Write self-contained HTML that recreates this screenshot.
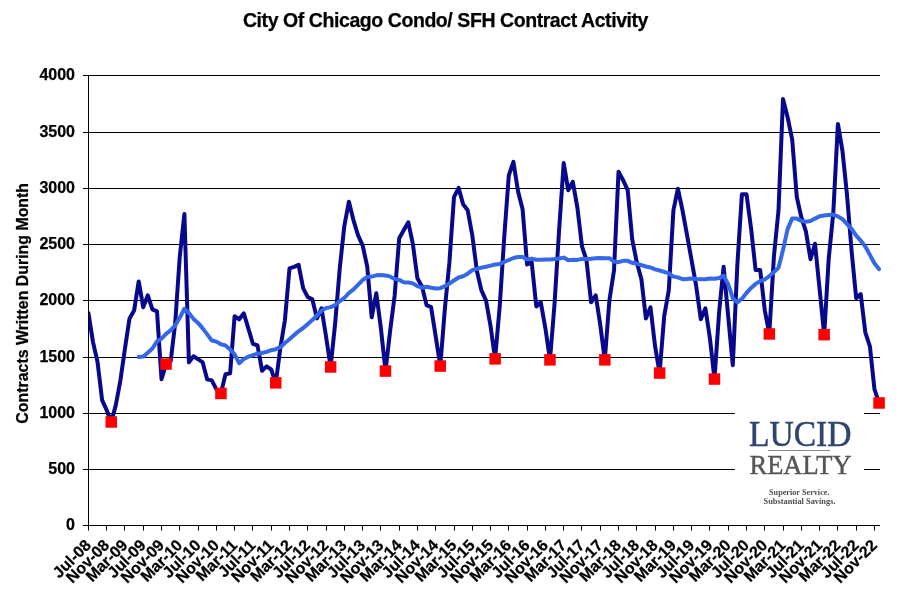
<!DOCTYPE html>
<html><head><meta charset="utf-8"><style>
html,body{margin:0;padding:0;background:#fff;}
body{width:900px;height:594px;overflow:hidden;position:relative;}
svg{position:absolute;left:0;top:0;will-change:transform;}
text{font-family:"Liberation Sans",sans-serif;font-weight:bold;fill:#000;stroke:#000;stroke-width:0.25px;}
.yl{font-size:16px;text-anchor:end;}
.xl{font-size:16px;text-anchor:end;}
.t{font-size:19.5px;text-anchor:middle;letter-spacing:-0.43px;}
.serif{font-family:"Liberation Serif",serif;}
</style></head><body>
<svg width="900" height="594" viewBox="0 0 900 594">
<text x="445.5" y="27.3" class="t">City Of Chicago Condo/ SFH Contract Activity</text>
<text transform="translate(28,303.3) rotate(-90)" style="font-size:15.9px;text-anchor:middle">Contracts Written During Month</text>
<line x1="83" y1="525.5" x2="880" y2="525.5" stroke="#000" stroke-width="1"/>
<text x="75" y="530.3" class="yl">0</text>
<line x1="83" y1="469.5" x2="880" y2="469.5" stroke="#000" stroke-width="1"/>
<text x="75" y="474.1" class="yl">500</text>
<line x1="83" y1="413.5" x2="880" y2="413.5" stroke="#000" stroke-width="1"/>
<text x="75" y="417.8" class="yl">1000</text>
<line x1="83" y1="357.5" x2="880" y2="357.5" stroke="#000" stroke-width="1"/>
<text x="75" y="361.6" class="yl">1500</text>
<line x1="83" y1="300.5" x2="880" y2="300.5" stroke="#000" stroke-width="1"/>
<text x="75" y="305.3" class="yl">2000</text>
<line x1="83" y1="244.5" x2="880" y2="244.5" stroke="#000" stroke-width="1"/>
<text x="75" y="249.1" class="yl">2500</text>
<line x1="83" y1="188.5" x2="880" y2="188.5" stroke="#000" stroke-width="1"/>
<text x="75" y="192.8" class="yl">3000</text>
<line x1="83" y1="132.5" x2="880" y2="132.5" stroke="#000" stroke-width="1"/>
<text x="75" y="136.6" class="yl">3500</text>
<line x1="83" y1="75.5" x2="880" y2="75.5" stroke="#000" stroke-width="1"/>
<text x="75" y="80.3" class="yl">4000</text>
<line x1="88.5" y1="525" x2="88.5" y2="530.5" stroke="#000" stroke-width="1"/>
<text transform="translate(92.0,546.2) rotate(-45)" class="xl">Jul-08</text>
<line x1="106.5" y1="525" x2="106.5" y2="530.5" stroke="#000" stroke-width="1"/>
<text transform="translate(110.3,546.2) rotate(-45)" class="xl">Nov-08</text>
<line x1="124.5" y1="525" x2="124.5" y2="530.5" stroke="#000" stroke-width="1"/>
<text transform="translate(128.6,546.2) rotate(-45)" class="xl">Mar-09</text>
<line x1="143.5" y1="525" x2="143.5" y2="530.5" stroke="#000" stroke-width="1"/>
<text transform="translate(146.8,546.2) rotate(-45)" class="xl">Jul-09</text>
<line x1="161.5" y1="525" x2="161.5" y2="530.5" stroke="#000" stroke-width="1"/>
<text transform="translate(165.1,546.2) rotate(-45)" class="xl">Nov-09</text>
<line x1="179.5" y1="525" x2="179.5" y2="530.5" stroke="#000" stroke-width="1"/>
<text transform="translate(183.4,546.2) rotate(-45)" class="xl">Mar-10</text>
<line x1="198.5" y1="525" x2="198.5" y2="530.5" stroke="#000" stroke-width="1"/>
<text transform="translate(201.7,546.2) rotate(-45)" class="xl">Jul-10</text>
<line x1="216.5" y1="525" x2="216.5" y2="530.5" stroke="#000" stroke-width="1"/>
<text transform="translate(220.0,546.2) rotate(-45)" class="xl">Nov-10</text>
<line x1="234.5" y1="525" x2="234.5" y2="530.5" stroke="#000" stroke-width="1"/>
<text transform="translate(238.2,546.2) rotate(-45)" class="xl">Mar-11</text>
<line x1="252.5" y1="525" x2="252.5" y2="530.5" stroke="#000" stroke-width="1"/>
<text transform="translate(256.5,546.2) rotate(-45)" class="xl">Jul-11</text>
<line x1="271.5" y1="525" x2="271.5" y2="530.5" stroke="#000" stroke-width="1"/>
<text transform="translate(274.8,546.2) rotate(-45)" class="xl">Nov-11</text>
<line x1="289.5" y1="525" x2="289.5" y2="530.5" stroke="#000" stroke-width="1"/>
<text transform="translate(293.1,546.2) rotate(-45)" class="xl">Mar-12</text>
<line x1="307.5" y1="525" x2="307.5" y2="530.5" stroke="#000" stroke-width="1"/>
<text transform="translate(311.4,546.2) rotate(-45)" class="xl">Jul-12</text>
<line x1="326.5" y1="525" x2="326.5" y2="530.5" stroke="#000" stroke-width="1"/>
<text transform="translate(329.6,546.2) rotate(-45)" class="xl">Nov-12</text>
<line x1="344.5" y1="525" x2="344.5" y2="530.5" stroke="#000" stroke-width="1"/>
<text transform="translate(347.9,546.2) rotate(-45)" class="xl">Mar-13</text>
<line x1="362.5" y1="525" x2="362.5" y2="530.5" stroke="#000" stroke-width="1"/>
<text transform="translate(366.2,546.2) rotate(-45)" class="xl">Jul-13</text>
<line x1="380.5" y1="525" x2="380.5" y2="530.5" stroke="#000" stroke-width="1"/>
<text transform="translate(384.5,546.2) rotate(-45)" class="xl">Nov-13</text>
<line x1="399.5" y1="525" x2="399.5" y2="530.5" stroke="#000" stroke-width="1"/>
<text transform="translate(402.8,546.2) rotate(-45)" class="xl">Mar-14</text>
<line x1="417.5" y1="525" x2="417.5" y2="530.5" stroke="#000" stroke-width="1"/>
<text transform="translate(421.0,546.2) rotate(-45)" class="xl">Jul-14</text>
<line x1="435.5" y1="525" x2="435.5" y2="530.5" stroke="#000" stroke-width="1"/>
<text transform="translate(439.3,546.2) rotate(-45)" class="xl">Nov-14</text>
<line x1="454.5" y1="525" x2="454.5" y2="530.5" stroke="#000" stroke-width="1"/>
<text transform="translate(457.6,546.2) rotate(-45)" class="xl">Mar-15</text>
<line x1="472.5" y1="525" x2="472.5" y2="530.5" stroke="#000" stroke-width="1"/>
<text transform="translate(475.9,546.2) rotate(-45)" class="xl">Jul-15</text>
<line x1="490.5" y1="525" x2="490.5" y2="530.5" stroke="#000" stroke-width="1"/>
<text transform="translate(494.2,546.2) rotate(-45)" class="xl">Nov-15</text>
<line x1="508.5" y1="525" x2="508.5" y2="530.5" stroke="#000" stroke-width="1"/>
<text transform="translate(512.4,546.2) rotate(-45)" class="xl">Mar-16</text>
<line x1="527.5" y1="525" x2="527.5" y2="530.5" stroke="#000" stroke-width="1"/>
<text transform="translate(530.7,546.2) rotate(-45)" class="xl">Jul-16</text>
<line x1="545.5" y1="525" x2="545.5" y2="530.5" stroke="#000" stroke-width="1"/>
<text transform="translate(549.0,546.2) rotate(-45)" class="xl">Nov-16</text>
<line x1="563.5" y1="525" x2="563.5" y2="530.5" stroke="#000" stroke-width="1"/>
<text transform="translate(567.3,546.2) rotate(-45)" class="xl">Mar-17</text>
<line x1="581.5" y1="525" x2="581.5" y2="530.5" stroke="#000" stroke-width="1"/>
<text transform="translate(585.6,546.2) rotate(-45)" class="xl">Jul-17</text>
<line x1="600.5" y1="525" x2="600.5" y2="530.5" stroke="#000" stroke-width="1"/>
<text transform="translate(603.8,546.2) rotate(-45)" class="xl">Nov-17</text>
<line x1="618.5" y1="525" x2="618.5" y2="530.5" stroke="#000" stroke-width="1"/>
<text transform="translate(622.1,546.2) rotate(-45)" class="xl">Mar-18</text>
<line x1="636.5" y1="525" x2="636.5" y2="530.5" stroke="#000" stroke-width="1"/>
<text transform="translate(640.4,546.2) rotate(-45)" class="xl">Jul-18</text>
<line x1="655.5" y1="525" x2="655.5" y2="530.5" stroke="#000" stroke-width="1"/>
<text transform="translate(658.7,546.2) rotate(-45)" class="xl">Nov-18</text>
<line x1="673.5" y1="525" x2="673.5" y2="530.5" stroke="#000" stroke-width="1"/>
<text transform="translate(677.0,546.2) rotate(-45)" class="xl">Mar-19</text>
<line x1="691.5" y1="525" x2="691.5" y2="530.5" stroke="#000" stroke-width="1"/>
<text transform="translate(695.2,546.2) rotate(-45)" class="xl">Jul-19</text>
<line x1="709.5" y1="525" x2="709.5" y2="530.5" stroke="#000" stroke-width="1"/>
<text transform="translate(713.5,546.2) rotate(-45)" class="xl">Nov-19</text>
<line x1="728.5" y1="525" x2="728.5" y2="530.5" stroke="#000" stroke-width="1"/>
<text transform="translate(731.8,546.2) rotate(-45)" class="xl">Mar-20</text>
<line x1="746.5" y1="525" x2="746.5" y2="530.5" stroke="#000" stroke-width="1"/>
<text transform="translate(750.1,546.2) rotate(-45)" class="xl">Jul-20</text>
<line x1="764.5" y1="525" x2="764.5" y2="530.5" stroke="#000" stroke-width="1"/>
<text transform="translate(768.4,546.2) rotate(-45)" class="xl">Nov-20</text>
<line x1="783.5" y1="525" x2="783.5" y2="530.5" stroke="#000" stroke-width="1"/>
<text transform="translate(786.6,546.2) rotate(-45)" class="xl">Mar-21</text>
<line x1="801.5" y1="525" x2="801.5" y2="530.5" stroke="#000" stroke-width="1"/>
<text transform="translate(804.9,546.2) rotate(-45)" class="xl">Jul-21</text>
<line x1="819.5" y1="525" x2="819.5" y2="530.5" stroke="#000" stroke-width="1"/>
<text transform="translate(823.2,546.2) rotate(-45)" class="xl">Nov-21</text>
<line x1="837.5" y1="525" x2="837.5" y2="530.5" stroke="#000" stroke-width="1"/>
<text transform="translate(841.5,546.2) rotate(-45)" class="xl">Mar-22</text>
<line x1="856.5" y1="525" x2="856.5" y2="530.5" stroke="#000" stroke-width="1"/>
<text transform="translate(859.8,546.2) rotate(-45)" class="xl">Jul-22</text>
<line x1="874.5" y1="525" x2="874.5" y2="530.5" stroke="#000" stroke-width="1"/>
<text transform="translate(878.0,546.2) rotate(-45)" class="xl">Nov-22</text>
<rect x="735" y="405" width="129" height="112" fill="#fff"/>
<defs><clipPath id="pc"><rect x="88.6" y="0" width="812" height="594"/></clipPath></defs>
<polyline clip-path="url(#pc)" points="88.4,312.9 93.0,342.1 97.5,361.8 102.1,400.1 106.7,410.2 111.2,422.0 115.8,405.1 120.4,380.4 125.0,348.3 129.5,318.5 134.1,310.6 138.7,281.4 143.2,307.2 147.8,295.3 152.4,309.3 157.0,311.3 161.5,379.2 166.1,364.1 170.7,361.2 175.2,323.2 179.8,256.2 184.4,213.9 188.9,362.4 193.5,356.3 198.1,359.2 202.7,362.4 207.2,379.4 211.8,380.4 216.4,389.3 220.9,393.4 225.5,374.3 230.1,373.4 234.6,316.2 239.2,319.3 243.8,313.3 248.4,328.6 252.9,343.8 257.5,345.5 262.1,370.8 266.6,366.4 271.2,369.5 275.8,382.9 280.3,348.3 284.9,320.3 289.5,268.4 294.1,266.8 298.6,264.8 303.2,288.4 307.8,297.1 312.3,299.3 316.9,318.4 321.5,308.3 326.0,336.3 330.6,367.0 335.2,323.0 339.8,267.9 344.3,226.2 348.9,201.7 353.5,220.3 358.0,235.2 362.6,245.3 367.2,266.4 371.7,317.3 376.3,293.2 380.9,328.3 385.5,371.0 390.0,332.0 394.6,296.0 399.2,238.3 403.7,230.3 408.3,222.3 412.9,244.2 417.4,278.3 422.0,286.4 426.6,305.2 431.1,307.2 435.7,336.4 440.3,366.1 444.9,308.3 449.4,262.4 454.0,197.2 458.6,187.9 463.1,204.3 467.7,210.3 472.3,235.4 476.9,271.1 481.4,290.3 486.0,300.3 490.6,326.4 495.1,358.9 499.7,306.4 504.3,236.4 508.8,175.3 513.4,161.8 518.0,191.3 522.6,209.3 527.1,264.5 531.7,262.4 536.3,306.4 540.8,302.3 545.4,328.3 550.0,359.9 554.5,304.3 559.1,230.2 563.7,163.1 568.2,190.2 572.8,181.8 577.4,207.7 582.0,246.4 586.5,260.2 591.1,302.3 595.7,295.3 600.2,324.4 604.8,359.9 609.4,300.3 614.0,270.5 618.5,171.8 623.1,180.2 627.7,190.2 632.2,239.4 636.8,262.4 641.4,279.2 645.9,318.4 650.5,307.2 655.1,346.4 659.6,373.1 664.2,316.2 668.8,290.1 673.4,210.3 677.9,188.7 682.5,210.3 687.1,235.4 691.6,260.3 696.2,286.2 700.8,319.3 705.4,308.3 709.9,338.3 714.5,379.0 719.1,312.3 723.6,266.8 728.2,316.2 732.8,365.2 737.3,265.6 741.9,194.3 746.5,194.3 751.1,228.5 755.6,270.1 760.2,270.1 764.8,310.3 769.3,333.9 773.9,256.6 778.5,210.5 783.0,99.1 787.6,117.2 792.2,139.6 796.8,197.0 801.3,217.2 805.9,231.3 810.5,259.2 815.0,243.7 819.6,289.2 824.2,334.7 828.7,258.9 833.3,212.8 837.9,123.9 842.5,151.2 847.0,194.8 851.6,251.2 856.2,298.2 860.7,294.0 865.3,332.3 869.9,346.3 874.4,388.8 879.0,403.0" fill="none" stroke="#08088c" stroke-width="4" stroke-linejoin="round" stroke-linecap="round"/>
<polyline points="138.7,357.1 143.2,356.6 147.8,352.7 152.4,348.5 157.0,341.2 161.5,338.7 166.1,333.9 170.7,330.2 175.2,325.4 179.8,317.6 184.4,308.8 188.9,312.9 193.5,318.9 198.1,322.9 202.7,328.4 207.2,334.4 211.8,340.5 216.4,341.6 220.9,344.3 225.5,345.4 230.1,349.4 234.6,354.4 239.2,363.2 243.8,359.1 248.4,356.7 252.9,355.2 257.5,353.7 262.1,353.0 266.6,351.9 271.2,350.2 275.8,349.2 280.3,347.2 284.9,343.0 289.5,339.3 294.1,335.1 298.6,331.3 303.2,328.0 307.8,324.1 312.3,320.1 316.9,315.5 321.5,310.7 326.0,308.1 330.6,307.1 335.2,305.2 339.8,301.1 344.3,298.0 348.9,293.0 353.5,289.4 358.0,284.9 362.6,280.2 367.2,277.0 371.7,276.6 376.3,275.3 380.9,274.9 385.5,275.5 390.0,276.4 394.6,278.9 399.2,279.9 403.7,282.2 408.3,282.5 412.9,283.4 417.4,286.1 422.0,287.7 426.6,286.7 431.1,287.8 435.7,288.5 440.3,288.2 444.9,286.2 449.4,283.5 454.0,280.5 458.6,277.5 463.1,276.3 467.7,273.7 472.3,270.2 476.9,268.9 481.4,267.6 486.0,266.8 490.6,265.6 495.1,264.5 499.7,264.1 504.3,261.8 508.8,260.0 513.4,258.0 518.0,257.0 522.6,257.0 527.1,259.4 531.7,258.6 536.3,259.7 540.8,259.7 545.4,259.6 550.0,259.4 554.5,259.1 559.1,258.5 563.7,257.6 568.2,260.2 572.8,259.7 577.4,259.9 582.0,258.9 586.5,259.0 591.1,258.8 595.7,258.2 600.2,258.0 604.8,258.3 609.4,258.2 614.0,261.6 618.5,262.2 623.1,260.8 627.7,260.8 632.2,262.8 636.8,263.7 641.4,265.1 645.9,266.5 650.5,267.5 655.1,269.4 659.6,270.5 664.2,271.8 668.8,273.4 673.4,276.6 677.9,277.4 682.5,279.2 687.1,278.9 691.6,278.6 696.2,279.1 700.8,279.2 705.4,279.2 709.9,278.5 714.5,278.8 719.1,278.1 723.6,275.8 728.2,284.1 732.8,298.2 737.3,302.4 741.9,298.7 746.5,292.9 751.1,287.9 755.6,283.9 760.2,281.1 764.8,279.3 769.3,276.2 773.9,272.1 778.5,267.8 783.0,249.9 787.6,229.1 792.2,218.4 796.8,218.6 801.3,220.9 805.9,221.7 810.5,221.0 815.0,218.6 819.6,216.3 824.2,215.5 828.7,214.9 833.3,214.6 837.9,216.4 842.5,219.2 847.0,224.1 851.6,228.9 856.2,235.7 860.7,240.6 865.3,246.5 869.9,254.9 874.4,263.2 879.0,269.1" fill="none" stroke="#3468e8" stroke-width="4" stroke-linejoin="round" stroke-linecap="round"/>
<line x1="88.5" y1="75" x2="88.5" y2="530" stroke="#000" stroke-width="1"/>
<rect x="105.5" y="416.2" width="11.5" height="11.5" fill="#f00"/>
<rect x="160.3" y="358.3" width="11.5" height="11.5" fill="#f00"/>
<rect x="215.2" y="387.7" width="11.5" height="11.5" fill="#f00"/>
<rect x="270.0" y="377.1" width="11.5" height="11.5" fill="#f00"/>
<rect x="324.9" y="361.2" width="11.5" height="11.5" fill="#f00"/>
<rect x="379.7" y="365.3" width="11.5" height="11.5" fill="#f00"/>
<rect x="434.5" y="360.3" width="11.5" height="11.5" fill="#f00"/>
<rect x="489.4" y="353.1" width="11.5" height="11.5" fill="#f00"/>
<rect x="544.2" y="354.1" width="11.5" height="11.5" fill="#f00"/>
<rect x="599.1" y="354.1" width="11.5" height="11.5" fill="#f00"/>
<rect x="653.9" y="367.3" width="11.5" height="11.5" fill="#f00"/>
<rect x="708.7" y="373.3" width="11.5" height="11.5" fill="#f00"/>
<rect x="763.6" y="328.2" width="11.5" height="11.5" fill="#f00"/>
<rect x="818.4" y="328.9" width="11.5" height="11.5" fill="#f00"/>
<rect x="873.3" y="397.2" width="11.5" height="11.5" fill="#f00"/>
<g class="logo">
<text x="749" y="446.3" textLength="102.5" lengthAdjust="spacingAndGlyphs" style="font-family:'Liberation Serif',serif;font-weight:normal;font-size:36.5px;fill:#30446e;stroke:#30446e;stroke-width:0.5px">LUCID</text>
<line x1="768" y1="450.5" x2="830" y2="450.5" stroke="#8a8a8a" stroke-width="1"/>
<text x="749.5" y="474.2" textLength="102" lengthAdjust="spacingAndGlyphs" style="font-family:'Liberation Serif',serif;font-weight:normal;font-size:28px;fill:#555;stroke:#555;stroke-width:0.45px">REALTY</text>
<text x="769" y="495" textLength="60.5" lengthAdjust="spacingAndGlyphs" style="font-family:'Liberation Serif',serif;font-weight:bold;font-size:9px;fill:#4f4f4f;stroke:none">Superior Service.</text>
<text x="763.5" y="504" textLength="72" lengthAdjust="spacingAndGlyphs" style="font-family:'Liberation Serif',serif;font-weight:bold;font-size:9px;fill:#4f4f4f;stroke:none">Substantial Savings.</text>
</g>
</svg>
</body></html>
